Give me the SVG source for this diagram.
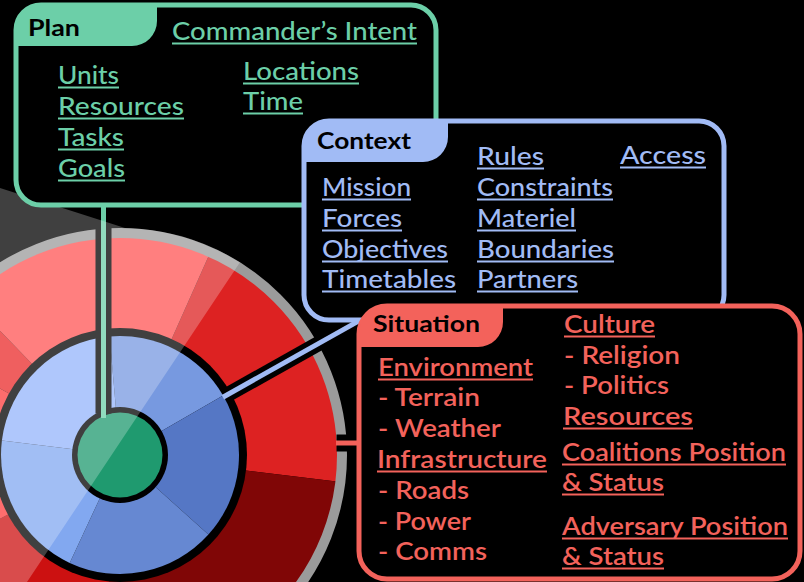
<svg xmlns="http://www.w3.org/2000/svg" width="804" height="582" viewBox="0 0 804 582">
<style>
.t{font-family:Lato,"Open Sans","DejaVu Sans",sans-serif;font-size:24px;font-weight:500}
.hd{font-family:Lato,"Open Sans","DejaVu Sans",sans-serif;font-size:22px;font-weight:700;fill:#000}
.g{fill:#6ccfa8}.b{fill:#a1bbf5}.r{fill:#f3625b;font-weight:600}
.ul{fill:none;stroke-width:2}
.box{fill:#000;stroke-width:5}
</style>
<rect width="804" height="582" fill="#000"/>
<g id="ring-red">
<path d="M120,455 L209.5,254 A220,220 0 0 1 338.4,481.8 Z" fill="#dd2222"/>
<path d="M120,455 L338.4,481.8 A220,220 0 0 1 100.8,674.2 Z" fill="#800606"/>
<path d="M120,455 L100.8,674.2 A220,220 0 0 1 -74.2,558.3 Z" fill="#cc1111"/>
<path d="M120,455 L-74.2,558.3 A220,220 0 0 1 -72.4,348.3 Z" fill="#ff3d3d"/>
<path d="M120,455 L-72.4,348.3 A220,220 0 0 1 -32.8,296.8 Z" fill="#ea2a2a"/>
<path d="M120,455 L-32.8,296.8 A220,220 0 0 1 209.5,254 Z" fill="#ff5555"/>
<circle cx="120" cy="455" r="222" fill="none" stroke="#9b9b9b" stroke-width="10"/>
</g>
<g id="ring-blue">
<circle cx="120" cy="455" r="127" fill="#000"/>
<path d="M120,455 L109.6,336.5 A119,119 0 0 1 223.1,395.5 Z" fill="#7799e0"/>
<path d="M120,455 L223.1,395.5 A119,119 0 0 1 208.4,534.6 Z" fill="#5577c5"/>
<path d="M120,455 L208.4,534.6 A119,119 0 0 1 69.7,562.9 Z" fill="#6688d2"/>
<path d="M120,455 L69.7,562.9 A119,119 0 0 1 1.9,440.5 Z" fill="#82a8f0"/>
<path d="M120,455 L1.9,440.5 A119,119 0 0 1 109.6,336.5 Z" fill="#95b5fb"/>
</g>
<g id="core-green">
<circle cx="120" cy="455" r="48" fill="#000"/>
<circle cx="120" cy="455" r="42.5" fill="#1f9a6f"/>
</g>
<g id="connectors">
<line x1="103.5" y1="205" x2="103.5" y2="413.5" stroke="#000" stroke-width="16"/>
<line x1="103.5" y1="205" x2="103.5" y2="418" stroke="#6ccfa8" stroke-width="5"/>
<line x1="224.7" y1="396.3" x2="359.8" y2="320.4" stroke="#000" stroke-width="15"/>
<line x1="222.9" y1="397.2" x2="359.8" y2="320.4" stroke="#a1bbf5" stroke-width="5"/>
<line x1="336.5" y1="443" x2="360" y2="443" stroke="#000" stroke-width="17"/>
<line x1="336" y1="443" x2="360" y2="443" stroke="#f3625b" stroke-width="5"/>
</g>
<path id="gloss" d="M0,188 L125,228.1 A227,227 0 0 1 240,262.2 L27,582 L0,582 Z" fill="#fff" fill-opacity="0.25"/>
<g id="plan">
<rect class="box" x="16" y="5" width="420" height="200" rx="25" stroke="#6ccfa8"/>
<path d="M16,30 A25,25 0 0 1 41,5 H157 V21 A25,25 0 0 1 132,46 H16 Z" fill="#6ccfa8"/>
<text class="hd" x="28" y="36" textLength="52" lengthAdjust="spacingAndGlyphs">Plan</text>
<g class="t g">
<text x="172" y="40" textLength="245" lengthAdjust="spacingAndGlyphs">Commander’s Intent</text>
<text x="58" y="84" textLength="61" lengthAdjust="spacingAndGlyphs">Units</text>
<text x="58" y="115" textLength="126" lengthAdjust="spacingAndGlyphs">Resources</text>
<text x="58" y="146" textLength="66" lengthAdjust="spacingAndGlyphs">Tasks</text>
<text x="58" y="177" textLength="67" lengthAdjust="spacingAndGlyphs">Goals</text>
<text x="243" y="80" textLength="116" lengthAdjust="spacingAndGlyphs">Locations</text>
<text x="243" y="110" textLength="60" lengthAdjust="spacingAndGlyphs">Time</text>
</g>
<path class="ul" stroke="#6ccfa8" d="M172,43.5H417 M58,87.5H119 M58,118.5H184 M58,149.5H124 M58,180.5H125 M243,83.5H359 M243,113.5H303"/>
</g>
<g id="context">
<rect class="box" x="304" y="121" width="420" height="199" rx="25" stroke="#a1bbf5"/>
<path d="M304,146 A25,25 0 0 1 329,121 H448 V137 A25,25 0 0 1 423,162 H304 Z" fill="#a1bbf5"/>
<text class="hd" x="317" y="149" textLength="94" lengthAdjust="spacingAndGlyphs">Context</text>
<g class="t b">
<text x="322" y="196" textLength="89" lengthAdjust="spacingAndGlyphs">Mission</text>
<text x="322" y="227" textLength="80" lengthAdjust="spacingAndGlyphs">Forces</text>
<text x="322" y="258" textLength="126" lengthAdjust="spacingAndGlyphs">Objectives</text>
<text x="322" y="288" textLength="134" lengthAdjust="spacingAndGlyphs">Timetables</text>
<text x="477" y="165" textLength="67" lengthAdjust="spacingAndGlyphs">Rules</text>
<text x="477" y="196" textLength="136" lengthAdjust="spacingAndGlyphs">Constraints</text>
<text x="477" y="227" textLength="99" lengthAdjust="spacingAndGlyphs">Materiel</text>
<text x="477" y="258" textLength="137" lengthAdjust="spacingAndGlyphs">Boundaries</text>
<text x="477" y="288" textLength="101" lengthAdjust="spacingAndGlyphs">Partners</text>
<text x="620" y="164" textLength="86" lengthAdjust="spacingAndGlyphs">Access</text>
</g>
<path class="ul" stroke="#a1bbf5" d="M322,199.5H411 M322,230.5H402 M322,261.5H448 M322,291.5H456 M477,168.5H544 M477,199.5H613 M477,230.5H576 M477,261.5H614 M477,291.5H578 M620,167.5H706"/>
</g>
<g id="situation">
<rect class="box" x="359" y="306" width="441" height="273" rx="28" stroke="#f3625b"/>
<path d="M359,334 A28,28 0 0 1 387,306 H503 V322 A25,25 0 0 1 478,347 H359 Z" fill="#f3625b"/>
<text class="hd" x="373" y="332" textLength="107" lengthAdjust="spacingAndGlyphs">Situation</text>
<g class="t r">
<text x="378" y="376" textLength="155" lengthAdjust="spacingAndGlyphs">Environment</text>
<text x="378" y="406" textLength="102" lengthAdjust="spacingAndGlyphs">- Terrain</text>
<text x="378" y="437" textLength="123" lengthAdjust="spacingAndGlyphs">- Weather</text>
<text x="377" y="468" textLength="170" lengthAdjust="spacingAndGlyphs">Infrastructure</text>
<text x="378" y="499" textLength="91" lengthAdjust="spacingAndGlyphs">- Roads</text>
<text x="378" y="530" textLength="93" lengthAdjust="spacingAndGlyphs">- Power</text>
<text x="378" y="560" textLength="109" lengthAdjust="spacingAndGlyphs">- Comms</text>
<text x="564" y="333" textLength="91" lengthAdjust="spacingAndGlyphs">Culture</text>
<text x="564" y="364" textLength="116" lengthAdjust="spacingAndGlyphs">- Religion</text>
<text x="564" y="394" textLength="105" lengthAdjust="spacingAndGlyphs">- Politics</text>
<text x="563" y="425" textLength="130" lengthAdjust="spacingAndGlyphs">Resources</text>
<text x="562" y="461" textLength="224" lengthAdjust="spacingAndGlyphs">Coalitions Position</text>
<text x="562" y="491" textLength="102" lengthAdjust="spacingAndGlyphs">&amp; Status</text>
<text x="562" y="535" textLength="226" lengthAdjust="spacingAndGlyphs">Adversary Position</text>
<text x="562" y="565" textLength="102" lengthAdjust="spacingAndGlyphs">&amp; Status</text>
</g>
<path class="ul" stroke="#f3625b" d="M378,379.5H533 M377,471.5H547 M564,336.5H655 M563,428.5H693 M562,464.5H786 M562,494.5H664 M562,538.5H788 M562,568.5H664"/>
</g>
</svg>
